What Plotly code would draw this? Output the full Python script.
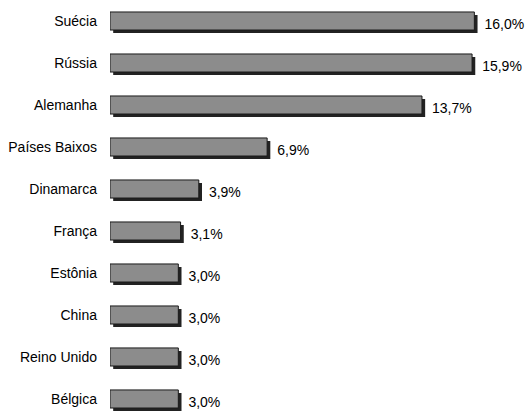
import plotly.graph_objects as go

countries = ["Suécia", "Rússia", "Alemanha", "Países Baixos", "Dinamarca",
             "França", "Estônia", "China", "Reino Unido", "Bélgica"]
values = [16.0, 15.9, 13.7, 6.9, 3.9, 3.1, 3.0, 3.0, 3.0, 3.0]

BW = 0.43
SH_X = 0.14
SH_Y = 0.07

FONT = "Liberation Sans, Arial, sans-serif"

fig = go.Figure()
# shadow
fig.add_trace(go.Bar(
    y=countries, x=values, base=SH_X, orientation="h",
    width=BW, offset=-BW / 2 + SH_Y,
    marker=dict(color="#222222", line=dict(width=0)),
    texttemplate=" %{x:.1f}%", textposition="outside",
    textfont=dict(family=FONT, size=14, color="#000"),
    cliponaxis=False, constraintext="none", hoverinfo="skip",
))
# face
fig.add_trace(go.Bar(
    y=countries, x=values, orientation="h",
    width=BW, offset=-BW / 2,
    marker=dict(color="#8c8c8c", line=dict(width=1, color="#1a1a1a")),
    cliponaxis=False,
))

fig.update_layout(
    width=529, height=412,
    margin=dict(l=110, r=0, t=0, b=0, autoexpand=False),
    barmode="overlay",
    showlegend=False,
    plot_bgcolor="white", paper_bgcolor="white",
    separators=",.",
    font=dict(family=FONT, size=14, color="#000"),
)
fig.update_xaxes(range=[0, 18.4], visible=False, showgrid=False, zeroline=False,
                 automargin=False)
fig.update_yaxes(range=[9.31, -0.5], showgrid=False, zeroline=False, showline=False,
                 ticks="", ticklabelstandoff=12, tickfont=dict(size=14),
                 automargin=False)

fig.write_html("out.html",
               config={"displayModeBar": False},
               post_script="document.body.style.margin='0px';document.body.style.overflow='hidden';")
